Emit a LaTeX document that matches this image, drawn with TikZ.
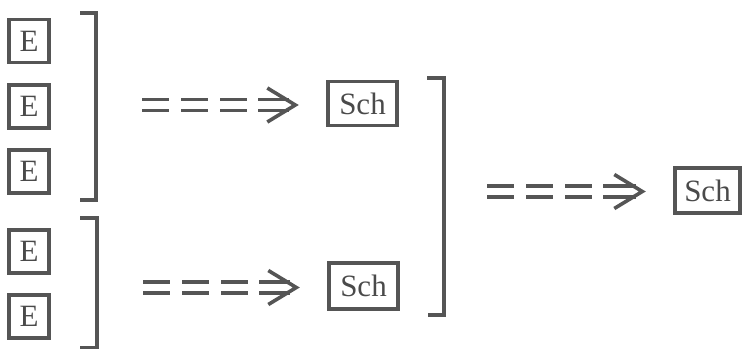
\documentclass[tikz,border=0pt]{standalone}
\usepackage{fontspec}
\setmainfont{Liberation Serif}
\usetikzlibrary{calc}
\definecolor{ink}{HTML}{555555}
\definecolor{txt}{HTML}{4A4A4A}
\begin{document}
\begin{tikzpicture}[x=1pt,y=-1pt,
  box/.style={draw=ink, line width=3.4pt, text=txt, font=\fontsize{31}{32}\selectfont, inner sep=0pt, minimum width=40pt, minimum height=43pt},
  schbox/.style={box, minimum width=69pt, minimum height=44pt},
  brk/.style={draw=ink, line width=3.2pt},
  dbl/.style={draw=ink, line width=3.6pt, double=white, double distance=7.4pt},
  chev/.style={draw=ink, line width=3.6pt, miter limit=10}
]
\useasboundingbox (0,0) rectangle (742,349);
% E boxes
\node[box] (E1) at (29,41) {E};
\node[box] (E2) at (29,106.5) {E};
\node[box] (E3) at (29,171.5) {E};
\node[box] (E4) at (29,251.5) {E};
\node[box] (E5) at (29,316.5) {E};
% Sch boxes
\node[schbox] (S1) at (362.5,103.5) {Sch};
\node[schbox, minimum height=46pt] (S2) at (363.5,286) {Sch};
\node[schbox, minimum width=65pt, minimum height=45pt] (S3) at (707.5,190.5) {Sch};
% brackets
\draw[brk] (80,13) -- (96,13) -- (96,200) -- (80,200);
\draw[brk] (80,218) -- (97,218) -- (97,347.5) -- (80,347.5);
\draw[brk] (427,78) -- (444,78) -- (444,315) -- (428,315);
% arrow start coordinates
\coordinate (A1) at (142,105);
\coordinate (A2) at (143,287.5);
\coordinate (A3) at (487,191.5);
\foreach \a/\s in {A1/S1, A2/S2, A3/S3}{
  \coordinate (T) at ($(\s.west |- \a)+(-31,0)$);
  \draw[dbl, dash pattern=on 27pt off 12pt] (\a) -- ($(\a)+(105,0)$);
  \draw[dbl] ($(\a)+(116,0)$) -- ($(T)+(-6,0)$);
  \draw[chev] ($(T)+(-28,-17)$) -- (T) -- ($(T)+(-28,17)$);
}
\end{tikzpicture}
\end{document}
